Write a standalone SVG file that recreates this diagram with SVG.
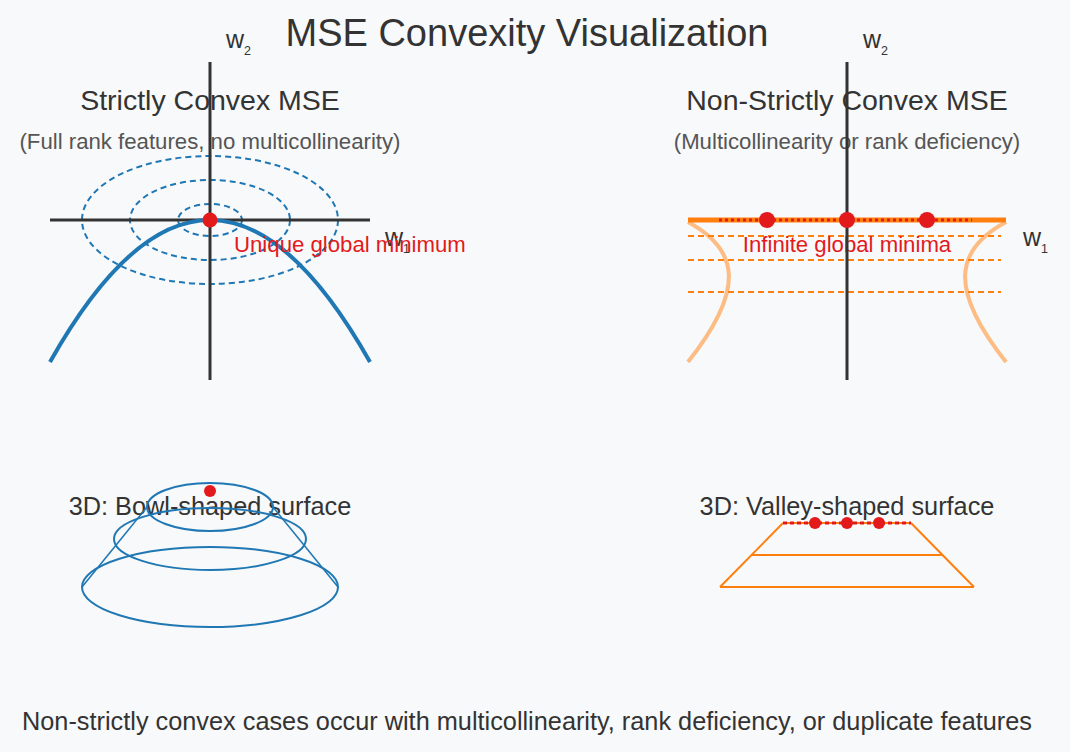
<svg xmlns="http://www.w3.org/2000/svg" width="1070" height="752" viewBox="0 0 1070 752">
<style>
text{font-family:"Liberation Sans",Arial,Helvetica,sans-serif}
.title{font-size:38px;fill:#333;text-anchor:middle}
.head{font-size:28.5px;fill:#333;text-anchor:middle}
.sub{font-size:22.2px;fill:#555;text-anchor:middle}
.red{font-size:22.2px;fill:#e31a1c}
.lbl3d{font-size:25.3px;fill:#333;text-anchor:middle}
.foot{font-size:25.3px;fill:#333;text-anchor:middle}
.axl{font-size:25px;fill:#333}
.axis{stroke:#333;stroke-width:3;fill:none}
.contour{stroke:#1f77b4;stroke-width:2;fill:none;stroke-dasharray:6 4}
.blue{stroke:#1f77b4;fill:none}
.odash{stroke:#ff7f0e;stroke-width:2;fill:none;stroke-dasharray:6 4}
.orange{stroke:#ff7f0e;fill:none}
.dot{fill:#e31a1c}
</style>
<rect width="1070" height="752" fill="#f8f9fa"/>
<text id="title" class="title" x="527" y="46">MSE Convexity Visualization</text>

<g id="strict-panel">
  <text class="head" x="210" y="110">Strictly Convex MSE</text>
  <text class="sub" x="210" y="149">(Full rank features, no multicollinearity)</text>
  <ellipse class="contour" cx="210" cy="220" rx="32" ry="16"/>
  <ellipse class="contour" cx="210" cy="220" rx="80" ry="40"/>
  <ellipse class="contour" cx="210" cy="220" rx="128" ry="64"/>
  <line class="axis" x1="210" y1="62" x2="210" y2="380"/>
  <line class="axis" x1="50" y1="220" x2="370" y2="220"/>
  <text class="axl" x="226" y="48">w<tspan font-size="12.5" dy="6.5">2</tspan></text>
  <text class="axl" x="385" y="246">w<tspan font-size="12.5" dy="6.5">1</tspan></text>
  <path class="blue" stroke-width="4" d="M50,362 Q210,78 370,362"/>
  <text class="red" x="234" y="252">Unique global minimum</text>
  <circle class="dot" cx="210" cy="220" r="7.5"/>
</g>

<g id="nonstrict-panel">
  <text class="head" x="847" y="110">Non-Strictly Convex MSE</text>
  <text class="sub" x="847" y="149">(Multicollinearity or rank deficiency)</text>
  <path class="orange" stroke-width="4" stroke-opacity="0.5" d="M688,222 C740,250 745,290 688,362"/>
  <path class="orange" stroke-width="4" stroke-opacity="0.5" d="M1006,222 C954,250 949,290 1006,362"/>
  <line class="odash" x1="688" y1="236" x2="1001" y2="236"/>
  <line class="odash" x1="688" y1="260" x2="1001" y2="260"/>
  <line class="odash" x1="688" y1="292" x2="1001" y2="292"/>
  <line class="orange" stroke-width="5" x1="688" y1="220" x2="1006" y2="220"/>
  <line stroke="#e31a1c" stroke-width="3" stroke-dasharray="3 3" x1="719" y1="220" x2="972" y2="220"/>
  <text class="red" x="847" y="252" text-anchor="middle">Infinite global minima</text>
  <line class="axis" x1="847" y1="62" x2="847" y2="380"/>
  <text class="axl" x="863" y="48">w<tspan font-size="12.5" dy="6.5">2</tspan></text>
  <text class="axl" x="1023" y="246">w<tspan font-size="12.5" dy="6.5">1</tspan></text>
  <circle class="dot" cx="767" cy="220" r="8"/>
  <circle class="dot" cx="847" cy="220" r="8"/>
  <circle class="dot" cx="927" cy="220" r="8"/>
</g>

<g id="bowl-3d">
  <text class="lbl3d" x="210" y="515">3D: Bowl-shaped surface</text>
  <ellipse class="blue" stroke-width="2" cx="210" cy="507" rx="63" ry="24"/>
  <ellipse class="blue" stroke-width="2" cx="210" cy="539" rx="96" ry="31"/>
  <ellipse class="blue" stroke-width="2" cx="210" cy="587" rx="128" ry="40"/>
  <line class="blue" stroke-width="1.5" x1="147" y1="507" x2="82" y2="587"/>
  <line class="blue" stroke-width="1.5" x1="273" y1="507" x2="338" y2="587"/>
  <circle class="dot" cx="210" cy="491" r="6"/>
</g>

<g id="valley-3d">
  <text class="lbl3d" x="847" y="515">3D: Valley-shaped surface</text>
  <line class="orange" stroke-width="2" x1="783" y1="523" x2="911" y2="523"/>
  <line class="orange" stroke-width="2" x1="751.5" y1="555" x2="942.5" y2="555"/>
  <line class="orange" stroke-width="2" x1="720" y1="587" x2="974" y2="587"/>
  <line class="orange" stroke-width="2" x1="783" y1="523" x2="720" y2="587"/>
  <line class="orange" stroke-width="2" x1="911" y1="523" x2="974" y2="587"/>
  <line stroke="#e31a1c" stroke-width="3" stroke-dasharray="4 3" x1="783" y1="523" x2="911" y2="523"/>
  <circle class="dot" cx="815" cy="523" r="6"/>
  <circle class="dot" cx="847" cy="523" r="6"/>
  <circle class="dot" cx="879" cy="523" r="6"/>
</g>

<text id="footnote" class="foot" x="527" y="730">Non-strictly convex cases occur with multicollinearity, rank deficiency, or duplicate features</text>
<g id="connectors"/>
</svg>
